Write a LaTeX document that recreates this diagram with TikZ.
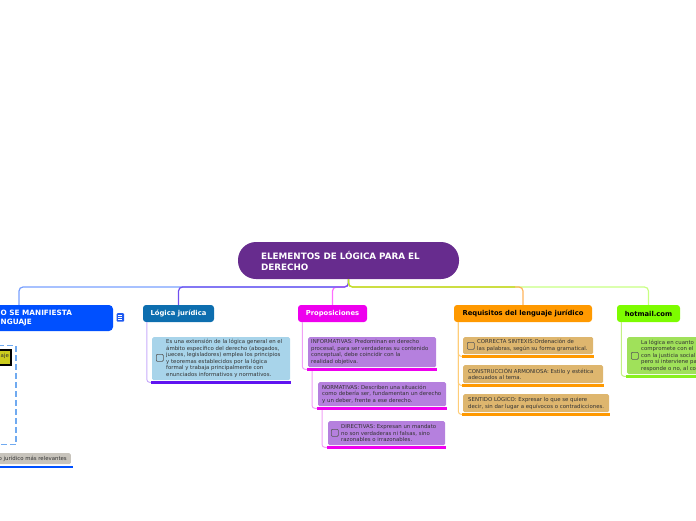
\documentclass[tikz,border=0pt]{standalone}
\usepackage{fontspec}
\setmainfont{DejaVu Sans}
\definecolor{rootc}{RGB}{103,44,142}
\definecolor{leftc}{RGB}{0,80,255}
\definecolor{logc}{RGB}{13,110,175}
\definecolor{propc}{RGB}{238,0,238}
\definecolor{reqc}{RGB}{255,153,0}
\definecolor{hotc}{RGB}{125,252,0}
\definecolor{lfill}{RGB}{168,212,234}
\definecolor{pfill}{RGB}{181,128,222}
\definecolor{rfill}{RGB}{222,182,110}
\definecolor{hfill}{RGB}{160,225,90}
\definecolor{cleft}{RGB}{120,160,255}
\definecolor{clog}{RGB}{112,80,240}
\definecolor{cprop}{RGB}{255,110,255}
\definecolor{creq}{RGB}{255,180,90}
\definecolor{chot}{RGB}{200,255,130}
\definecolor{croot}{RGB}{185,230,40}
\definecolor{clogsub}{RGB}{200,172,250}
\definecolor{cpropsub}{RGB}{240,160,245}
\definecolor{creqsub}{RGB}{255,205,120}
\definecolor{chotsub}{RGB}{195,240,130}
\definecolor{ulog}{RGB}{96,20,240}
\definecolor{uhot}{RGB}{136,240,30}
\definecolor{bound}{RGB}{112,170,240}
\definecolor{langc}{RGB}{204,204,30}
\definecolor{grayc}{RGB}{200,196,188}
\definecolor{iconc}{RGB}{30,90,240}
\begin{document}
\begin{tikzpicture}[x=1pt,y=-1pt,
  topic/.style={rounded corners=3pt, minimum height=17pt, inner sep=0pt,
    font=\bfseries\fontsize{6.8}{8}\selectfont},
  box/.style={anchor=north west, inner sep=0pt, rounded corners=1.5pt},
  txt/.style={anchor=west, align=left, inner sep=0pt,
    font=\fontsize{5.4}{6.5}\selectfont, text=black!80},
  chk/.style={draw=black!65, line width=0.7pt, rounded corners=1pt,
    minimum size=7pt, inner sep=0pt, anchor=north west},
  conn/.style={line width=1.2pt, rounded corners=4pt},
  subconn/.style={line width=1pt, rounded corners=3pt},
  uline/.style={line width=2.5pt}]
\useasboundingbox (0,0) rectangle (696,520);
\clip (0,0) rectangle (696,520);

% root
\node[fill=rootc, rounded corners=18pt, minimum width=221pt, minimum height=37pt,
  inner sep=0pt, text width=175pt, align=left, text=white,
  font=\bfseries\fontsize{8.8}{11}\selectfont] (root) at (348.5,260.5)
  {ELEMENTOS DE LÓGICA PARA EL\\DERECHO};

% main topics
\node[topic, fill=leftc, minimum width=188pt, minimum height=26pt, rounded corners=4pt] (t1) at (19,318) {};
\node[anchor=west, align=left, inner sep=0pt, text=white,
  font=\bfseries\fontsize{7.3}{9.5}\selectfont] (t1txt) at (0.5,318)
  {O SE MANIFIESTA\\NGUAJE};
\node[topic, fill=logc, minimum width=71pt, text=white] (t2) at (178.5,313.5) {Lógica jurídica};
\node[topic, fill=propc, minimum width=69pt, text=white] (t3) at (332.5,313.5) {Proposiciones};
\node[topic, fill=reqc, minimum width=138pt, text=black] (t4) at (523,313.5) {Requisitos del lenguaje jurídico};
\node[topic, fill=hotc, minimum width=63pt, text=black] (t5) at (648.5,313.5) {hotmail.com};

% connectors from root
\coordinate (bus) at (348.5,287);
\coordinate (busr) at (515,287);
\draw[conn, cleft] (root.south) -- (bus) -| (t1.north);
\draw[conn, cprop] (root.south) -- (bus) -| (t3.north);
\draw[conn, clog] (root.south) -- (bus) -| (t2.north);
\draw[conn, chot] (root.south) -- (bus) -| (t5.north);
\draw[conn, creq] (root.south) -- (bus) -| (t4.north);
\draw[conn, croot] (root.south) -- (bus) -- (busr);

% note icon
\node[fill=iconc, rounded corners=1pt, minimum width=7.5pt, minimum height=8.5pt,
  inner sep=0pt, anchor=north west] (icon) at (116.5,313) {};
\foreach \dy in {-2,0,2} \draw[white, line width=0.6pt] ([xshift=-2pt,yshift=\dy pt]icon.center) -- ++(4,0);

% left branch contents
\node[draw=bound, line width=1.3pt, dash pattern=on 6pt off 3pt, anchor=north east,
  minimum width=60pt, minimum height=99pt, inner sep=0pt] (bnd) at (16.5,345) {};
\node[draw=black, line width=2.2pt, fill=langc, anchor=north east, minimum width=50pt,
  minimum height=15pt, inner sep=0pt] (lang) at (12,349) {};
\node[txt] (langtxt) at (0.5,356.5) {aje};
\node[box, anchor=north east, fill=grayc, minimum width=100pt, minimum height=11pt] (g1) at (71,453) {};
\node[txt, anchor=east] (g1txt) at (67,458.5) {o jurídico más relevantes};
\draw[uline, leftc, line width=2pt] ([yshift=-2.5pt]g1.south west) -- ([xshift=2pt,yshift=-2.5pt]g1.south east);

% Lógica jurídica
\node[box, fill=lfill, minimum width=138pt, minimum height=43pt] (b1) at (152,337) {};
\node[chk] (k1) at (156,354) {};
\node[txt] (x1) at (166,358.5) {Es una extensión de la lógica general en el\\ámbito específico del derecho (abogados,\\jueces, legisladores) emplea los principios\\y teoremas establecidos por la lógica\\formal y trabaja principalmente con\\enunciados informativos y normativos.};
\draw[subconn, clogsub] ([xshift=4pt]t2.south west) |- ([yshift=-2pt]b1.south west);
\draw[uline, ulog] ([xshift=-1pt,yshift=-2pt]b1.south west) -- ([xshift=1pt,yshift=-2pt]b1.south east);

% Proposiciones
\node[box, fill=pfill, minimum width=128pt, minimum height=30pt] (p1) at (308,337) {};
\node[txt] (px1) at (311,352) {INFORMATIVAS: Predominan en derecho\\procesal, para ser verdaderas su contenido\\conceptual, debe coincidir con la\\realidad objetiva.};
\node[box, fill=pfill, minimum width=128pt, minimum height=24pt] (p2) at (318,382) {};
\node[txt] (px2) at (322,394) {NORMATIVAS: Describen una situación\\como debería ser, fundamentan un derecho\\y un deber, frente a ese derecho.};
\node[box, fill=pfill, minimum width=117pt, minimum height=24pt] (p3) at (328,421) {};
\node[chk] (k3) at (331,429) {};
\node[txt] (px3) at (341,433) {DIRECTIVAS: Expresan un mandato\\no son verdaderas ni falsas, sino\\razonables o irrazonables.};
\draw[subconn, cpropsub] ([xshift=4.5pt]t3.south west) |- ([yshift=-2pt]p1.south west);
\draw[subconn, cpropsub] ([xshift=4pt,yshift=-2pt]p1.south west) |- ([yshift=-2pt]p2.south west);
\draw[subconn, cpropsub] ([xshift=4pt,yshift=-2pt]p2.south west) |- ([yshift=-2pt]p3.south west);
\foreach \b in {p1,p2,p3}
  \draw[uline, propc] ([xshift=-1pt,yshift=-2pt]\b.south west) -- ([xshift=1pt,yshift=-2pt]\b.south east);

% Requisitos
\node[box, fill=rfill, minimum width=130pt, minimum height=17pt] (r1) at (463,337) {};
\node[chk] (k4) at (467,342) {};
\node[txt] (rx1) at (477,345.5) {CORRECTA SINTEXIS:Ordenación de\\las palabras, según su forma gramatical.};
\node[box, fill=rfill, minimum width=140pt, minimum height=18pt] (r2) at (463,365) {};
\node[txt] (rx2) at (468,374) {CONSTRUCCIÓN ARMONIOSA: Estilo y estética\\adecuados al tema.};
\node[box, fill=rfill, minimum width=146pt, minimum height=18pt] (r3) at (463,394) {};
\node[txt] (rx3) at (468,403) {SENTIDO LÓGICO: Expresar lo que se quiere\\decir, sin dar lugar a equívocos o contradicciones.};
\foreach \b in {r1,r2,r3} {
  \draw[subconn, creqsub] ([xshift=4.5pt]t4.south west) |- ([yshift=-2pt]\b.south west);
  \draw[uline, reqc] ([xshift=-1pt,yshift=-2pt]\b.south west) -- ([xshift=1pt,yshift=-2pt]\b.south east);
}

% hotmail
\node[box, fill=hfill, minimum width=100pt, minimum height=37pt] (h1) at (627,337) {};
\node[chk] (k5) at (631,352) {};
\node[txt] (hx1) at (641,355.5) {La lógica en cuanto\\compromete con el\\con la justicia social\\pero si interviene pa\\responde o no, al co};
\draw[subconn, chotsub] ([xshift=4.5pt]t5.south west) |- ([yshift=-2pt]h1.south west);
\draw[uline, uhot] ([xshift=-1pt,yshift=-2pt]h1.south west) -- ([xshift=1pt,yshift=-2pt]h1.south east);
\end{tikzpicture}
\end{document}
